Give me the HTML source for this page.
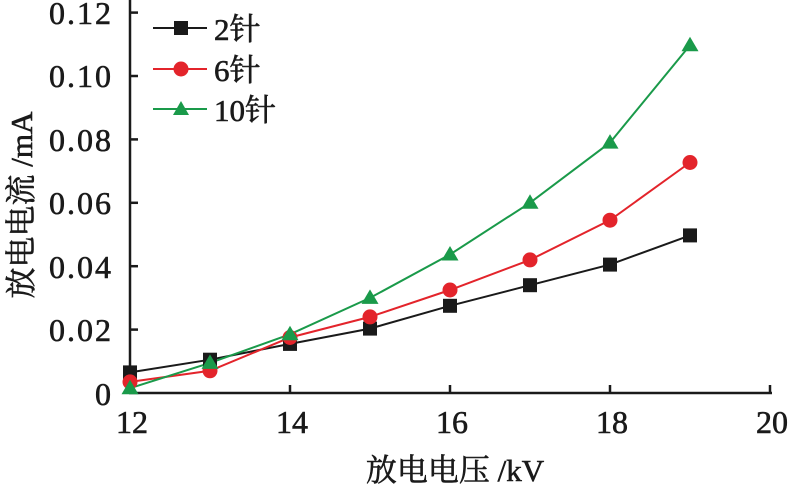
<!DOCTYPE html>
<html><head><style>body{margin:0;background:#fff}svg{display:block}text{font-family:"Times New Roman","Liberation Serif",Times,"Noto Serif CJK SC",serif}</style></head><body>
<svg width="796" height="492" xmlns="http://www.w3.org/2000/svg">
<g stroke="#1a1a1a" stroke-width="2.5" fill="none">
<line x1="130" y1="0" x2="130" y2="394"/>
<line x1="129" y1="393" x2="772" y2="393"/>
<line x1="130" y1="12.6" x2="138" y2="12.6"/><line x1="130" y1="76" x2="138" y2="76"/><line x1="130" y1="139.4" x2="138" y2="139.4"/><line x1="130" y1="202.8" x2="138" y2="202.8"/><line x1="130" y1="266.2" x2="138" y2="266.2"/><line x1="130" y1="329.6" x2="138" y2="329.6"/>
<line x1="290" y1="393" x2="290" y2="385"/><line x1="450" y1="393" x2="450" y2="385"/><line x1="610" y1="393" x2="610" y2="385"/><line x1="770" y1="393" x2="770" y2="385"/>
</g>
<g font-size="32" fill="#1a1a1a" text-anchor="end" letter-spacing="2" stroke="#1a1a1a" stroke-width="0.6">
<text x="113" y="24">0.12</text><text x="113" y="87">0.10</text><text x="113" y="151">0.08</text><text x="113" y="214">0.06</text><text x="113" y="278">0.04</text><text x="113" y="341">0.02</text><text x="113" y="405">0</text>
</g>
<g font-size="32" fill="#1a1a1a" text-anchor="middle" stroke="#1a1a1a" stroke-width="0.6">
<text x="132" y="433">12</text><text x="292" y="433">14</text><text x="452" y="433">16</text><text x="612" y="433">18</text><text x="772" y="433">20</text>
<text x="455" y="481" font-size="31">放电电压 /kV</text>
</g>
<text transform="translate(32,205) rotate(-90)" font-size="31" text-anchor="middle" fill="#1a1a1a" stroke="#1a1a1a" stroke-width="0.6">放电电流 /mA</text>
<polyline fill="none" stroke="#1a1a1a" stroke-width="2" points="130,372.4 210,359.7 290,343.9 370,328.6 450,305.8 530,285.2 610,264.6 690,235.4"/>
<polyline fill="none" stroke="#e3242b" stroke-width="2" points="130,381.9 210,370.8 290,337.5 370,316.9 450,290 530,259.9 610,220.2 690,162.5"/>
<polyline fill="none" stroke="#1a9a4a" stroke-width="2" points="130,388.2 210,362.9 290,334.3 370,297.9 450,254.5 530,202.8 610,142.6 690,45.2"/>
<g fill="#1a1a1a">
<rect x="123" y="365.4" width="14" height="14"/><rect x="203" y="352.7" width="14" height="14"/><rect x="283" y="336.9" width="14" height="14"/><rect x="363" y="321.6" width="14" height="14"/><rect x="443" y="298.8" width="14" height="14"/><rect x="523" y="278.2" width="14" height="14"/><rect x="603" y="257.6" width="14" height="14"/><rect x="683" y="228.4" width="14" height="14"/>
<rect x="174" y="21" width="14" height="14"/>
</g>
<g fill="#e3242b">
<circle cx="130" cy="381.9" r="7.5"/><circle cx="210" cy="370.8" r="7.5"/><circle cx="290" cy="337.5" r="7.5"/><circle cx="370" cy="316.9" r="7.5"/><circle cx="450" cy="290" r="7.5"/><circle cx="530" cy="259.9" r="7.5"/><circle cx="610" cy="220.2" r="7.5"/><circle cx="690" cy="162.5" r="7.5"/>
<circle cx="181" cy="69" r="7.5"/>
</g>
<g fill="#1a9a4a">
<polygon points="130,379.7 121.5,394.2 138.5,394.2"/><polygon points="210,354.4 201.5,368.9 218.5,368.9"/><polygon points="290,325.8 281.5,340.3 298.5,340.3"/><polygon points="370,289.4 361.5,303.9 378.5,303.9"/><polygon points="450,246 441.5,260.5 458.5,260.5"/><polygon points="530,194.3 521.5,208.8 538.5,208.8"/><polygon points="610,134.1 601.5,148.6 618.5,148.6"/><polygon points="690,36.7 681.5,51.2 698.5,51.2"/>
<polygon points="181,101 173,115 189,115"/>
</g>
<line x1="153" y1="28" x2="207" y2="28" stroke="#1a1a1a" stroke-width="2"/>
<line x1="153" y1="69" x2="207" y2="69" stroke="#e3242b" stroke-width="2"/>
<line x1="153" y1="109" x2="207" y2="109" stroke="#1a9a4a" stroke-width="2"/>
<g font-size="31" fill="#1a1a1a" stroke="#1a1a1a" stroke-width="0.6">
<text x="214" y="40">2针</text><text x="214" y="81">6针</text><text x="214" y="121">10针</text>
</g>
</svg>
</body></html>
